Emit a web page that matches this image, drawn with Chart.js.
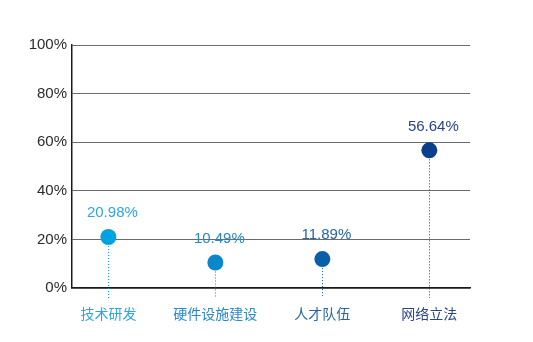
<!DOCTYPE html>
<html>
<head>
<meta charset="utf-8">
<script src="https://cdn.jsdelivr.net/npm/chart.js@4/dist/chart.umd.min.js"></script>
<style>
  html, body { margin: 0; padding: 0; background: #fff; }
  #wrap { width: 533px; height: 342px; }
</style>
</head>
<body>
<div id="wrap"><canvas id="chart"></canvas></div>
<script>
// Categories and shares (%)
const categories = ['技术研发', '硬件设施建设', '人才队伍', '网络立法'];
const shares = [20.98, 10.49, 11.89, 56.64];
const yTicks = [0, 20, 40, 60, 80, 100];

// One shade of blue per category, light to dark
const dotColors = ['#00a3e0', '#0b88cc', '#0a5fa8', '#0a3f8c'];
const textColors = ['#2ea6de', '#2588c8', '#2664aa', '#2a4586'];

const points = shares.map((v, i) => ({ x: i, y: v }));

// Dotted stems + value labels above each dot
const stemsAndLabels = {
    id: 'stemsAndLabels',
    beforeDatasetsDraw(chart) {
        const { ctx, scales } = chart;
        const meta = chart.getDatasetMeta(0);
        ctx.save();
        ctx.lineWidth = 1;
        ctx.setLineDash([1, 2]);
        meta.data.forEach((pt, i) => {
            ctx.strokeStyle = dotColors[i];
            ctx.beginPath();
            ctx.moveTo(Math.round(pt.x) + 0.5, pt.y);
            ctx.lineTo(Math.round(pt.x) + 0.5, scales.y.bottom + 10);
            ctx.stroke();
        });
        ctx.restore();
    },
    afterDatasetsDraw(chart) {
        const { ctx } = chart;
        const meta = chart.getDatasetMeta(0);
        ctx.save();
        ctx.font = '15px "Liberation Sans", Arial, sans-serif';
        ctx.textAlign = 'center';
        ctx.textBaseline = 'middle';
        meta.data.forEach((pt, i) => {
            ctx.fillStyle = textColors[i];
            ctx.fillText(shares[i].toFixed(2) + '%', pt.x + 4, pt.y - 24);
        });
        ctx.restore();
    }
};

new Chart(document.getElementById('chart'), {
    type: 'scatter',
    data: {
        datasets: [{
            data: points,
            pointRadius: 8,
            pointHoverRadius: 8,
            pointBackgroundColor: dotColors,
            pointBorderWidth: 0
        }]
    },
    options: {
        responsive: true,
        maintainAspectRatio: false,
        animation: false,
        layout: { padding: { top: 45, right: 63, left: 0, bottom: 0 } },
        plugins: {
            legend: { display: false },
            tooltip: { enabled: false }
        },
        scales: {
            x: {
                type: 'linear',
                min: -0.34,
                max: 3.38,
                afterBuildTicks: (scale) => { scale.ticks = categories.map((c, i) => ({ value: i })); },
                afterFit: (scale) => { scale.height = 54; },
                grid: { display: false, drawTicks: false },
                border: { display: true, color: '#1a1a1a', width: 1.5 },
                ticks: {
                    padding: 17,
                    font: { family: '"Noto Sans CJK SC", sans-serif', size: 14 },
                    color: (c) => textColors[c.index],
                    callback: (v) => categories[v]
                }
            },
            y: {
                min: 0,
                max: 100,
                afterBuildTicks: (scale) => { scale.ticks = yTicks.map(v => ({ value: v })); },
                afterFit: (scale) => { scale.width = 72; },
                grid: {
                    drawTicks: false,
                    color: (c) => c.tick.value === 0 ? '#1a1a1a' : '#6b6b6b',
                    lineWidth: (c) => c.tick.value === 0 ? 1.5 : 1
                },
                border: { display: true, color: '#1a1a1a', width: 1.5 },
                ticks: {
                    padding: 5,
                    font: { family: '"Liberation Sans", Arial, sans-serif', size: 15 },
                    color: '#2b2b2b',
                    callback: (v) => v + '%'
                }
            }
        }
    },
    plugins: [stemsAndLabels]
});
</script>
</body>
</html>
